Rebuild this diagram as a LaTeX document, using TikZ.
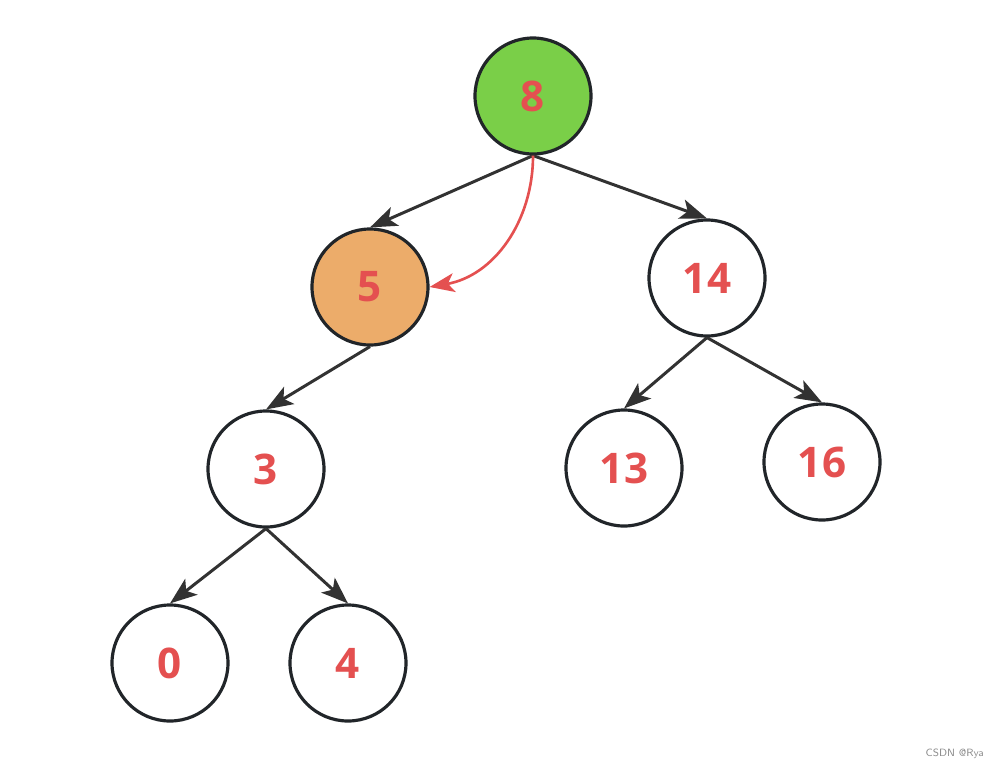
\documentclass[tikz,border=0pt]{standalone}
\usepackage{fontspec}
\setmainfont{Open Sans}
\usetikzlibrary{arrows.meta}
\definecolor{KeyRed}{RGB}{228,80,80}
\definecolor{RootGreen}{RGB}{122,207,72}
\definecolor{CurOrange}{RGB}{236,172,106}
\definecolor{RimDark}{RGB}{33,37,41}
\definecolor{LinkDark}{RGB}{50,50,50}
\tikzset{
  key/.style={circle,draw=RimDark,fill=white,line width=1.8pt,minimum size=2.32cm,inner sep=0pt,
    font=\fontsize{24}{28}\selectfont\bfseries,text=KeyRed},
  link/.style={draw=LinkDark,line width=1.7pt,-{Stealth[length=5.4mm,width=4mm,inset=1.3mm]}},
  walk/.style={draw=KeyRed,line width=1.5pt,-{Stealth[length=5mm,width=3.8mm,inset=1.3mm]}},
}

\begin{document}
\begin{tikzpicture}
\useasboundingbox (0,0) rectangle (20.06,-15.38);
\node[key,fill=RootGreen] (k8) at (10.66,-1.92) {8};
\node[key,fill=CurOrange] (k5) at (7.40,-5.74) {5};
\node[key] (k14) at (14.14,-5.56) {14};
\node[key] (k3) at (5.32,-9.38) {3};
\node[key] (k13) at (12.48,-9.36) {13};
\node[key] (k16) at (16.44,-9.24) {16};
\node[key] (k0) at (3.40,-13.26) {0};
\node[key] (k4) at (6.96,-13.26) {4};
\draw[link] (k8.south) -- (k5.north);
\draw[link] (k8.south) -- (k14.north);
\draw[link] (k5.south) -- (k3.north);
\draw[link] (k14.south) -- (k13.north);
\draw[link] (k14.south) -- (k16.north);
\draw[link] (k3.south) -- (k0.north);
\draw[link] (k3.south) -- (k4.north);
\draw[walk] (k8.south) to[out=-90,in=10] (k5.east);
\node[anchor=east,text=black!45,font=\sffamily\fontsize{6}{7}\selectfont] (mark) at (19.80,-15.08) {CSDN @Rya};
\end{tikzpicture}
\end{document}
